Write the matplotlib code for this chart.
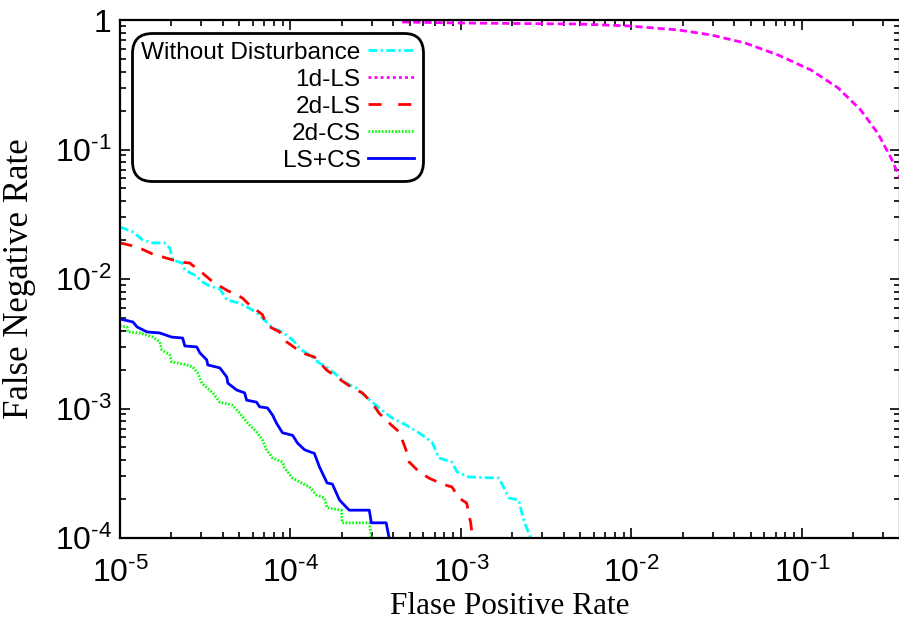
import matplotlib
matplotlib.use("Agg")
import matplotlib.pyplot as plt
from matplotlib.lines import Line2D

# ── Data ─────────────────────────────────────────────────────────────────────
wo_fpr = [1.0e-5, 1.19e-5, 1.36e-5, 1.56e-5, 1.83e-5, 1.96e-5, 2.04e-5, 2.31e-5,
          2.40e-5, 2.75e-5, 3.05e-5, 3.36e-5, 3.85e-5, 4.23e-5, 4.83e-5, 5.53e-5,
          6.32e-5, 7.24e-5, 7.85e-5, 8.97e-5, 1.03e-4, 1.16e-4, 1.29e-4, 1.48e-4,
          1.63e-4, 1.86e-4, 2.12e-4, 2.43e-4, 2.78e-4, 3.31e-4, 3.94e-4, 4.76e-4,
          5.68e-4, 6.76e-4, 7.43e-4, 8.85e-4, 9.48e-4, 1.11e-3, 1.67e-3, 1.91e-3,
          2.18e-3, 2.33e-3, 2.56e-3]
wo_fnr = [2.52e-2, 2.31e-2, 2.0e-2, 1.90e-2, 1.90e-2, 1.73e-2, 1.40e-2, 1.33e-2,
          1.17e-2, 1.07e-2, 9.5e-3, 8.8e-3, 8.4e-3, 6.9e-3, 6.6e-3, 6.1e-3,
          5.5e-3, 4.65e-3, 4.19e-3, 3.90e-3, 3.38e-3, 2.83e-3, 2.59e-3, 2.24e-3,
          2.09e-3, 1.82e-3, 1.57e-3, 1.44e-3, 1.23e-3, 1.01e-3, 8.45e-4, 7.46e-4,
          6.47e-4, 5.51e-4, 4.15e-4, 3.86e-4, 3.24e-4, 2.96e-4, 2.90e-4, 2.04e-4,
          1.96e-4, 1.38e-4, 1.0e-4]

ls1d_fpr = [4.52e-4, 9.73e-4, 4.90e-3, 9.59e-3, 1.88e-2, 2.94e-2, 4.65e-2,
            7.24e-2, 0.113, 0.163, 0.221, 0.278, 0.331, 0.376]
ls1d_fnr = [0.965, 0.948, 0.931, 0.90, 0.838, 0.766, 0.664,
            0.537, 0.411, 0.299, 0.202, 0.134, 0.0875, 0.060]

ls2d_fpr = [1.0e-5, 1.26e-5, 1.60e-5, 1.78e-5, 2.24e-5, 2.56e-5, 3.05e-5, 3.50e-5,
            4.29e-5, 4.90e-5, 5.24e-5, 5.61e-5, 6.85e-5, 7.24e-5, 8.63e-5, 9.48e-5,
            1.17e-4, 1.38e-4, 1.63e-4, 1.86e-4, 2.31e-4, 2.64e-4, 3.02e-4, 3.31e-4,
            3.90e-4, 4.34e-4, 4.76e-4, 4.97e-4, 5.68e-4, 6.50e-4, 7.74e-4, 8.85e-4,
            9.73e-4, 1.08e-3, 1.14e-3, 1.17e-3]
ls2d_fnr = [1.90e-2, 1.77e-2, 1.53e-2, 1.48e-2, 1.35e-2, 1.33e-2, 1.11e-2, 9.5e-3,
            8.1e-3, 7.5e-3, 7.1e-3, 6.5e-3, 5.3e-3, 4.4e-3, 3.9e-3, 3.27e-3,
            2.69e-3, 2.50e-3, 1.98e-3, 1.75e-3, 1.44e-3, 1.32e-3, 1.10e-3, 9.2e-4,
            7.46e-4, 6.6e-4, 4.79e-4, 3.86e-4, 3.24e-4, 2.90e-4, 2.61e-4, 2.48e-4,
            2.04e-4, 1.86e-4, 1.31e-4, 1.0e-4]

cs2d_fpr = [1.0e-5, 1.10e-5, 1.11e-5, 1.31e-5, 1.56e-5, 1.71e-5, 1.76e-5, 1.96e-5,
            2.01e-5, 2.47e-5, 2.67e-5, 2.86e-5, 3.02e-5, 3.50e-5, 3.85e-5, 4.58e-5,
            5.04e-5, 5.61e-5, 6.32e-5, 6.85e-5, 7.24e-5, 7.85e-5, 8.97e-5, 9.23e-5,
            1.03e-4, 1.16e-4, 1.29e-4, 1.42e-4, 1.58e-4, 1.64e-4, 1.99e-4, 2.01e-4,
            2.90e-4, 2.98e-4]
cs2d_fnr = [4.34e-3, 4.26e-3, 3.90e-3, 3.83e-3, 3.56e-3, 3.27e-3, 2.83e-3, 2.59e-3,
            2.29e-3, 2.17e-3, 2.09e-3, 1.88e-3, 1.57e-3, 1.32e-3, 1.12e-3, 1.06e-3,
            9.2e-4, 7.7e-4, 6.6e-4, 5.7e-4, 4.8e-4, 4.15e-4, 3.86e-4, 3.48e-4,
            2.90e-4, 2.66e-4, 2.48e-4, 2.15e-4, 2.04e-4, 1.71e-4, 1.64e-4, 1.31e-4,
            1.31e-4, 1.0e-4]

lscs_fpr = [1.0e-5, 1.19e-5, 1.26e-5, 1.44e-5, 1.71e-5, 2.01e-5, 2.33e-5, 2.40e-5,
            2.82e-5, 2.94e-5, 3.23e-5, 3.27e-5, 3.85e-5, 4.23e-5, 4.29e-5, 4.83e-5,
            5.38e-5, 5.53e-5, 6.32e-5, 6.59e-5, 7.33e-5, 7.85e-5, 8.28e-5, 8.97e-5,
            1.03e-4, 1.10e-4, 1.21e-4, 1.38e-4, 1.48e-4, 1.64e-4, 1.76e-4, 1.94e-4,
            2.21e-4, 2.90e-4, 2.98e-4, 3.64e-4, 3.79e-4]
lscs_fnr = [4.91e-3, 4.66e-3, 4.26e-3, 3.90e-3, 3.83e-3, 3.56e-3, 3.50e-3, 3.04e-3,
            2.99e-3, 2.69e-3, 2.37e-3, 2.17e-3, 2.06e-3, 1.75e-3, 1.57e-3, 1.39e-3,
            1.32e-3, 1.16e-3, 1.12e-3, 1.03e-3, 1.01e-3, 8.9e-4, 7.7e-4, 6.5e-4,
            6.2e-4, 5.4e-4, 4.8e-4, 4.5e-4, 3.53e-4, 2.66e-4, 2.61e-4, 1.96e-4,
            1.64e-4, 1.64e-4, 1.31e-4, 1.31e-4, 1.0e-4]

labels = ["Without Disturbance", "1d-LS", "2d-LS", "2d-CS", "LS+CS"]
x_ticks = [1e-5, 1e-4, 1e-3, 1e-2, 1e-1]
x_exps = [-5, -4, -3, -2, -1]
y_ticks = [1e-4, 1e-3, 1e-2, 1e-1, 1]
y_exps = [-4, -3, -2, -1, None]
x_range = (1e-5, 0.376)
y_range = (1e-4, 1.0)

SANS = ["Liberation Sans", "DejaVu Sans"]
SERIF = ["Liberation Serif", "DejaVu Serif"]
plt.rcParams["font.family"] = SANS
plt.rcParams["mathtext.fontset"] = "custom"
plt.rcParams["mathtext.rm"] = "Liberation Sans"


def pow_label(e):
    # hyphen (not a minus sign) in the exponent, as in the original figure
    if e is None:
        return "1"
    return r"$\mathregular{10^{\text{-}%d}}$" % abs(e)


# ── Figure ───────────────────────────────────────────────────────────────────
fig = plt.figure(figsize=(8.99, 6.33), dpi=100)
ax = fig.add_axes([120 / 899, 95 / 633, 780 / 899, 518 / 633])

LW = 2.0
ax.plot(wo_fpr, wo_fnr, color="#00ffff", lw=LW, dashes=(3.2, 1.2, 0.8, 1.2))
ax.plot(ls1d_fpr, ls1d_fnr, color="#ff00ff", lw=LW, dashes=(2.6, 1.4))
ax.plot(ls2d_fpr, ls2d_fnr, color="#ff0000", lw=LW, dashes=(4.5, 3.5))
ax.plot(cs2d_fpr, cs2d_fnr, color="#00ff00", lw=LW, dashes=(0.6, 0.6))
ax.plot(lscs_fpr, lscs_fnr, color="#0000ff", lw=LW)

ax.set_xscale("log")
ax.set_yscale("log")
ax.set_xlim(*x_range)
ax.set_ylim(*y_range)

ax.set_yticks(y_ticks)
ax.set_yticklabels([pow_label(e) for e in y_exps])
ax.set_xticks(x_ticks)
ax.set_xticklabels([pow_label(e) for e in x_exps])

ax.tick_params(which="both", direction="in", top=True, right=True,
               labelsize=23, width=1.2)
ax.tick_params(axis="x", which="major", pad=14)
ax.tick_params(axis="y", which="major", pad=6)
ax.tick_params(which="major", length=7)
ax.tick_params(which="minor", length=4)
for sp in ax.spines.values():
    sp.set_linewidth(1.6)

ax.set_xlabel("Flase Positive Rate", fontsize=22.5, family=SERIF, labelpad=2)
ax.set_ylabel("False Negative Rate", fontsize=25, family=SERIF)
ax.yaxis.set_label_coords(-84 / 780, 0.5)

# legend: handles on the right, 1d-LS drawn dotted in the key
handles = [
    Line2D([], [], color="#00ffff", lw=LW, dashes=(3.2, 1.2, 0.8, 1.2)),
    Line2D([], [], color="#ff00ff", lw=LW, dashes=(1.0, 1.2)),
    Line2D([], [], color="#ff0000", lw=LW, dashes=(4.7, 6.0)),
    Line2D([], [], color="#00ff00", lw=LW, dashes=(0.6, 0.6)),
    Line2D([], [], color="#0000ff", lw=LW),
]
leg = ax.legend(handles, labels, loc="upper left", bbox_to_anchor=(0.016, 0.975),
                markerfirst=False, fontsize=17.6, handlelength=1.9,
                handletextpad=0.3, labelspacing=0.2, borderpad=0.36,
                borderaxespad=0, fancybox=True, framealpha=1)
frame = leg.get_frame()
frame.set_edgecolor("black")
frame.set_linewidth(2.0)
frame.set_boxstyle("round", pad=0, rounding_size=0.8)

fig.savefig("out.png", dpi=100)
